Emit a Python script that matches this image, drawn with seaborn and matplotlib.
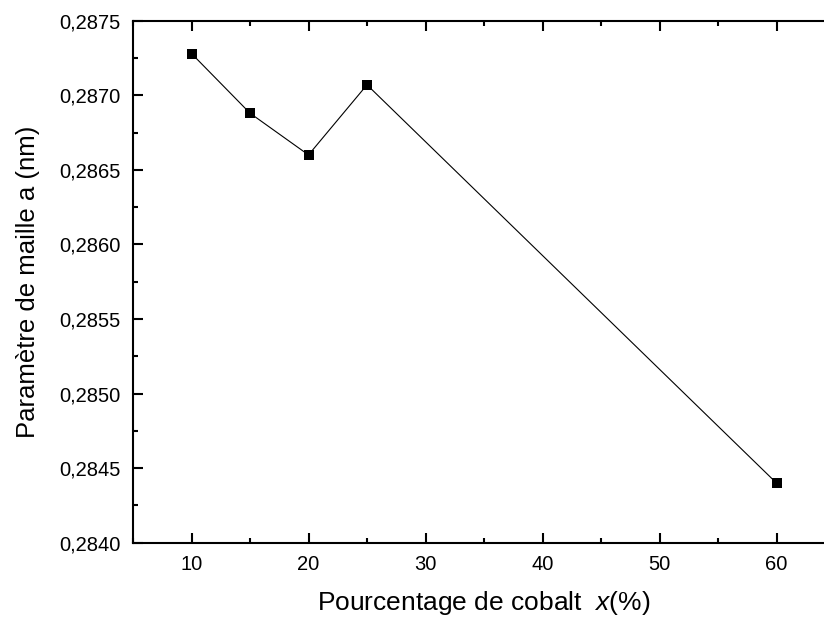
import matplotlib
matplotlib.use("Agg")
import matplotlib.pyplot as plt
import seaborn as sns
import pandas as pd
from matplotlib.ticker import MultipleLocator, FuncFormatter

cobalt_pct = [10, 15, 20, 25, 60]
lattice_a = [0.28728, 0.28688, 0.28660, 0.28707, 0.28440]

df = pd.DataFrame({"x": cobalt_pct, "a": lattice_a})

sns.set_theme(style="ticks")
plt.rcParams['font.family'] = ['Liberation Sans', 'DejaVu Sans']
plt.rcParams['mathtext.fontset'] = 'custom'
plt.rcParams['mathtext.rm'] = 'Liberation Sans'
plt.rcParams['mathtext.it'] = 'Liberation Sans:italic'

fig = plt.figure(figsize=(8.24, 6.2), dpi=100)
ax = fig.add_axes([133/824, 1-542.7/620, 702/824, (542.7-20.7)/620])

sns.lineplot(data=df, x="x", y="a", ax=ax, color="black", linewidth=0.8,
             marker="s", markersize=7, markeredgewidth=0, markerfacecolor="black")

ax.set_xlim(5, 65)
ax.set_ylim(0.2840, 0.2875)
ax.xaxis.set_major_locator(MultipleLocator(10))
ax.xaxis.set_minor_locator(MultipleLocator(5))
ax.yaxis.set_major_locator(MultipleLocator(0.0005))
ax.yaxis.set_minor_locator(MultipleLocator(0.00025))
ax.yaxis.set_major_formatter(FuncFormatter(lambda v, p: f"{v:.4f}".replace(".", ",")))
ax.xaxis.set_major_formatter(FuncFormatter(lambda v, p: f"{v:.0f}" if v > 5 else ""))

for s in ax.spines.values():
    s.set_linewidth(1.5)
    s.set_color("black")

ax.tick_params(which="both", direction="in", top=True, right=True, width=1.5, color="black")
ax.tick_params(which="major", length=7, labelsize=14.5, pad=9, labelcolor="black")
ax.tick_params(which="minor", length=3.5)

ax.set_xlabel(r"Pourcentage de cobalt  $\mathit{x}$(%)", fontsize=19, labelpad=11, color="black")
ax.set_ylabel("Paramètre de maille a (nm)", fontsize=18.5, labelpad=14, color="black")

fig.savefig("out.png", dpi=100)
